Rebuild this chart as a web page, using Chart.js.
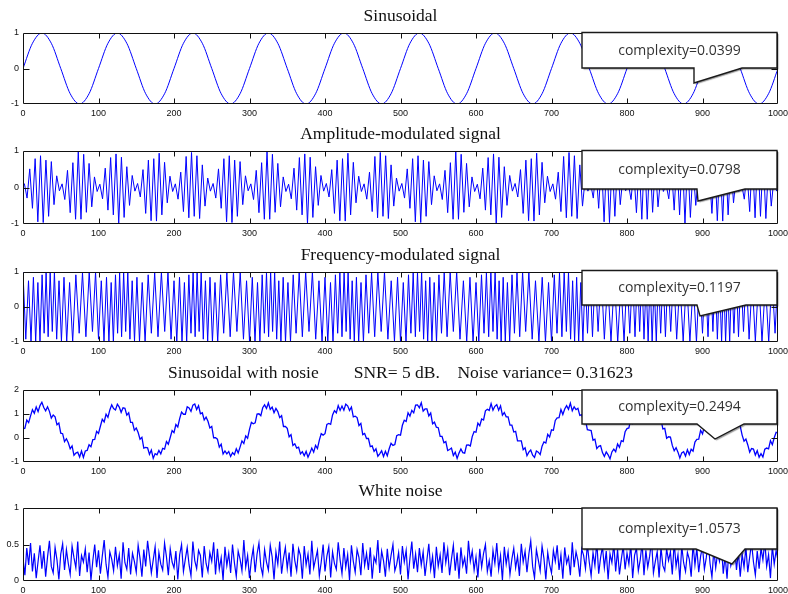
<!DOCTYPE html>
<html><head><meta charset="utf-8">
<script src="https://cdn.jsdelivr.net/npm/chart.js@4"></script>
<style>
html,body{margin:0;padding:0;background:#fff;}
body{width:788px;height:594px;position:relative;overflow:hidden;}
canvas{position:absolute;left:0;}
</style></head><body>
<script>
const titles = ['Sinusoidal','Amplitude-modulated signal','Frequency-modulated signal',
  'Sinusoidal with nosie        SNR= 5 dB.    Noise variance= 0.31623','White noise'];
const complexities = ['complexity=0.0399','complexity=0.0798','complexity=0.1197','complexity=0.2494','complexity=1.0573'];
const xTicks = [0,100,200,300,400,500,600,700,800,900,1000];
const yTicks = [[-1,0,1],[-1,0,1],[-1,0,1],[-1,0,1,2],[0,0.5,1]];

const sinStep = 12.5;
const sinValues = [0,0.71,1,0.71,0,-0.71,-1,-0.71, 0,0.71,1,0.71,0,-0.71,-1,-0.71, 0,0.71,1,0.71,0,-0.71,-1,-0.71,
 0,0.71,1,0.71,0,-0.71,-1,-0.71, 0,0.71,1,0.71,0,-0.71,-1,-0.71, 0,0.71,1,0.71,0,-0.71,-1,-0.71,
 0,0.71,1,0.71,0,-0.71,-1,-0.71, 0,0.71,1,0.71,0,-0.71,-1,-0.71, 0,0.71,1,0.71,0,-0.71,-1,-0.71,
 0,0.71,1,0.71,0,-0.71,-1,-0.71, 0];

const amStart = 1.79, amStep = 3.5714;
const amValues = [
 0.11,-0.29,0.51,-0.57,0.79,-0.94,0.87,-0.96,0.75,-0.79,0.71,-0.47,0.32,-0.09,
 0.10,-0.33,0.47,-0.69,0.68,-0.87,0.99,-0.87,0.91,-0.68,0.66,-0.53,0.29,-0.11,
 0.09,-0.31,0.53,-0.62,0.82,-0.75,0.92,-0.99,0.83,-0.82,0.57,-0.49,0.33,-0.10,
 0.11,-0.26,0.49,-0.71,0.75,-0.91,0.79,-0.92,0.94,-0.75,0.69,-0.42,0.31,-0.11,
 0.10,-0.32,0.42,-0.66,0.85,-0.83,0.96,-0.79,0.87,-0.85,0.62,-0.51,0.26,-0.10,
 0.11,-0.29,0.51,-0.57,0.79,-0.94,0.87,-0.96,0.75,-0.79,0.71,-0.47,0.32,-0.09,
 0.10,-0.33,0.47,-0.69,0.68,-0.87,0.99,-0.87,0.91,-0.68,0.66,-0.53,0.29,-0.11,
 0.09,-0.31,0.53,-0.62,0.82,-0.75,0.92,-0.99,0.83,-0.82,0.57,-0.49,0.33,-0.10,
 0.11,-0.26,0.49,-0.71,0.75,-0.91,0.79,-0.92,0.94,-0.75,0.69,-0.42,0.31,-0.11,
 0.10,-0.32,0.42,-0.66,0.85,-0.83,0.96,-0.79,0.87,-0.85,0.62,-0.51,0.26,-0.10,
 0.11,-0.29,0.51,-0.57,0.79,-0.94,0.87,-0.96,0.75,-0.79,0.71,-0.47,0.32,-0.09,
 0.10,-0.33,0.47,-0.69,0.68,-0.87,0.99,-0.87,0.91,-0.68,0.66,-0.53,0.29,-0.11,
 0.09,-0.31,0.53,-0.62,0.82,-0.75,0.92,-0.99,0.83,-0.82,0.57,-0.49,0.33,-0.10,
 0.11,-0.26,0.49,-0.71,0.75,-0.91,0.79,-0.92,0.94,-0.75,0.69,-0.42,0.31,-0.11,
 0.10,-0.32,0.42,-0.66,0.85,-0.83,0.96,-0.79,0.87,-0.85,0.62,-0.51,0.26,-0.10,
 0.11,-0.29,0.51,-0.57,0.79,-0.94,0.87,-0.96,0.75,-0.79,0.71,-0.47,0.32,-0.09,
 0.10,-0.33,0.47,-0.69,0.68,-0.87,0.99,-0.87,0.91,-0.68,0.66,-0.53,0.29,-0.11,
 0.09,-0.31,0.53,-0.62,0.82,-0.75,0.92,-0.99,0.83,-0.82,0.57,-0.49,0.33,-0.10,
 0.11,-0.26,0.49,-0.71,0.75,-0.91,0.79,-0.92,0.94,-0.75,0.69,-0.42,0.31,-0.11,
 0.10,-0.32,0.42,-0.66,0.85,-0.83,0.96,-0.79,0.87,-0.85,0.62,-0.51,0.26,-0.10];

const fmX = [
 0,3.7,7.3,10.6,13.8,16.8,19.7,22.5,25.3,28,30.6,33.3,36,38.8,41.6,44.6,47.7,50.9,54.3,57.9,61.7,65.8,70,74.4,78.8,83.3,87.7,92,96.1,
 100,103.7,107.3,110.6,113.8,116.8,119.7,122.5,125.3,128,130.6,133.3,136,138.8,141.6,144.6,147.7,150.9,154.3,157.9,161.7,165.8,170,174.4,178.8,183.3,187.7,192,196.1,
 200,203.7,207.3,210.6,213.8,216.8,219.7,222.5,225.3,228,230.6,233.3,236,238.8,241.6,244.6,247.7,250.9,254.3,257.9,261.7,265.8,270,274.4,278.8,283.3,287.7,292,296.1,
 300,303.7,307.3,310.6,313.8,316.8,319.7,322.5,325.3,328,330.6,333.3,336,338.8,341.6,344.6,347.7,350.9,354.3,357.9,361.7,365.8,370,374.4,378.8,383.3,387.7,392,396.1,
 400,403.7,407.3,410.6,413.8,416.8,419.7,422.5,425.3,428,430.6,433.3,436,438.8,441.6,444.6,447.7,450.9,454.3,457.9,461.7,465.8,470,474.4,478.8,483.3,487.7,492,496.1,
 500,503.7,507.3,510.6,513.8,516.8,519.7,522.5,525.3,528,530.6,533.3,536,538.8,541.6,544.6,547.7,550.9,554.3,557.9,561.7,565.8,570,574.4,578.8,583.3,587.7,592,596.1,
 600,603.7,607.3,610.6,613.8,616.8,619.7,622.5,625.3,628,630.6,633.3,636,638.8,641.6,644.6,647.7,650.9,654.3,657.9,661.7,665.8,670,674.4,678.8,683.3,687.7,692,696.1,
 700,703.7,707.3,710.6,713.8,716.8,719.7,722.5,725.3,728,730.6,733.3,736,738.8,741.6,744.6,747.7,750.9,754.3,757.9,761.7,765.8,770,774.4,778.8,783.3,787.7,792,796.1,
 800,803.7,807.3,810.6,813.8,816.8,819.7,822.5,825.3,828,830.6,833.3,836,838.8,841.6,844.6,847.7,850.9,854.3,857.9,861.7,865.8,870,874.4,878.8,883.3,887.7,892,896.1,
 900,903.7,907.3,910.6,913.8,916.8,919.7,922.5,925.3,928,930.6,933.3,936,938.8,941.6,944.6,947.7,950.9,954.3,957.9,961.7,965.8,970,974.4,978.8,983.3,987.7,992,996.1,
 1000];
const fmValues = [
 1,-0.92,0.75,-0.98,0.85,-1,0.7,-1,0.92,-0.75,0.98,-0.85,1,-0.7,
 1,-0.92,0.75,-0.98,0.85,-1,0.7,-1,0.92,-0.75,0.98,-0.85,1,-0.7,
 1,-0.92,0.75,-0.98,0.85,-1,0.7,-1,0.92,-0.75,0.98,-0.85,1,-0.7,
 1,-0.92,0.75,-0.98,0.85,-1,0.7,-1,0.92,-0.75,0.98,-0.85,1,-0.7,
 1,-0.92,0.75,-0.98,0.85,-1,0.7,-1,0.92,-0.75,0.98,-0.85,1,-0.7,
 1,-0.92,0.75,-0.98,0.85,-1,0.7,-1,0.92,-0.75,0.98,-0.85,1,-0.7,
 1,-0.92,0.75,-0.98,0.85,-1,0.7,-1,0.92,-0.75,0.98,-0.85,1,-0.7,
 1,-0.92,0.75,-0.98,0.85,-1,0.7,-1,0.92,-0.75,0.98,-0.85,1,-0.7,
 1,-0.92,0.75,-0.98,0.85,-1,0.7,-1,0.92,-0.75,0.98,-0.85,1,-0.7,
 1,-0.92,0.75,-0.98,0.85,-1,0.7,-1,0.92,-0.75,0.98,-0.85,1,-0.7,
 1,-0.92,0.75,-0.98,0.85,-1,0.7,-1,0.92,-0.75,0.98,-0.85,1,-0.7,
 1,-0.92,0.75,-0.98,0.85,-1,0.7,-1,0.92,-0.75,0.98,-0.85,1,-0.7,
 1,-0.92,0.75,-0.98,0.85,-1,0.7,-1,0.92,-0.75,0.98,-0.85,1,-0.7,
 1,-0.92,0.75,-0.98,0.85,-1,0.7,-1,0.92,-0.75,0.98,-0.85,1,-0.7,
 1,-0.92,0.75,-0.98,0.85,-1,0.7,-1,0.92,-0.75,0.98,-0.85,1,-0.7,
 1,-0.92,0.75,-0.98,0.85,-1,0.7,-1,0.92,-0.75,0.98,-0.85,1,-0.7,
 1,-0.92,0.75,-0.98,0.85,-1,0.7,-1,0.92,-0.75,0.98,-0.85,1,-0.7,
 1,-0.92,0.75,-0.98,0.85,-1,0.7,-1,0.92,-0.75,0.98,-0.85,1,-0.7,
 1,-0.92,0.75,-0.98,0.85,-1,0.7,-1,0.92,-0.75,0.98,-0.85,1,-0.7,
 1,-0.92,0.75,-0.98,0.85,-1,0.7,-1,0.92,-0.75,0.98,-0.85,1,-0.7,
 1,-0.92,0.75,-0.98,0.85,-1,0.7,-1,0.92,-0.75,0.98];

const noisyStep = 2.5;
const noisyValues = [
 0.38,0.41,0.75,0.64,0.92,1.18,1.03,1.29,1.10,1.35,1.49,1.27,1.13,1.30,1.11,0.83,0.96,0.88,0.55,0.62,0.20,0.18,-0.15,-0.03,-0.20,-0.45,-0.33,-0.72,-0.63,-0.59,-0.79,-0.54,-0.81,-0.54,-0.52,-0.28,-0.36,-0.07,-0.06,0.28,
 0.19,0.49,0.78,0.67,0.99,0.86,1.17,1.38,1.23,1.17,1.41,1.29,1.07,1.26,1.24,0.95,1.05,0.65,0.65,0.32,0.42,0.23,-0.05,0.03,-0.42,-0.39,-0.41,-0.68,-0.50,-0.85,-0.65,-0.70,-0.52,-0.66,-0.43,-0.46,-0.15,-0.26,0.02,0.31,
 0.22,0.56,0.46,0.81,1.08,0.99,0.99,1.30,1.25,1.11,1.37,1.42,1.19,1.35,1.01,1.05,0.75,0.87,0.70,0.42,0.48,0.01,0.01,-0.05,-0.38,-0.26,-0.67,-0.54,-0.66,-0.56,-0.77,-0.61,-0.70,-0.45,-0.62,-0.38,-0.12,-0.23,0.09,-0.01,
 0.36,0.65,0.59,0.63,1.00,1.01,0.93,1.26,1.38,1.23,1.46,1.19,1.29,1.05,1.23,1.10,0.85,0.93,0.48,0.48,0.40,0.05,0.14,-0.31,-0.24,-0.42,-0.38,-0.66,-0.57,-0.74,-0.56,-0.80,-0.62,-0.42,-0.59,-0.31,-0.44,-0.09,0.18,0.12,
 0.18,0.57,0.61,0.57,0.96,1.14,1.05,1.35,1.15,1.33,1.16,1.41,1.34,1.15,1.29,0.88,0.91,0.85,0.52,0.61,0.14,0.19,-0.02,-0.02,-0.36,-0.33,-0.56,-0.45,-0.76,-0.66,-0.53,-0.77,-0.55,-0.74,-0.45,-0.22,-0.31,-0.27,0.10,0.14,
 0.12,0.53,0.74,0.69,1.05,0.91,1.15,1.05,1.37,1.38,1.26,1.47,1.12,1.21,1.21,0.92,1.04,0.59,0.66,0.45,0.43,0.07,0.07,-0.20,-0.15,-0.52,-0.48,-0.42,-0.73,-0.59,-0.85,-0.63,-0.46,-0.61,-0.63,-0.30,-0.29,-0.33,0.06,0.27,
 0.24,0.62,0.51,0.79,0.75,1.13,1.20,1.15,1.43,1.16,1.32,1.39,1.16,1.34,0.95,1.06,0.88,0.88,0.54,0.54,0.25,0.28,-0.12,-0.12,-0.12,-0.49,-0.41,-0.74,-0.59,-0.50,-0.72,-0.81,-0.54,-0.59,-0.69,-0.34,-0.16,-0.21,0.15,0.04,
 0.34,0.32,0.73,0.84,0.85,1.19,0.98,1.21,1.35,1.20,1.45,1.13,1.30,1.18,1.24,0.94,0.97,0.70,0.75,0.35,0.33,0.31,-0.09,-0.05,-0.44,-0.35,-0.32,-0.61,-0.77,-0.58,-0.70,-0.87,-0.58,-0.46,-0.57,-0.25,-0.39,-0.11,-0.15,0.26,
 0.39,0.42,0.79,0.62,0.91,1.11,1.02,1.34,1.09,1.34,1.29,1.42,1.18,1.27,1.06,1.15,0.78,0.78,0.78,0.38,0.40,-0.01,0.05,0.04,-0.31,-0.53,-0.40,-0.59,-0.83,-0.62,-0.57,-0.75,-0.49,-0.69,-0.47,-0.55,-0.17,-0.06,-0.05,0.32,
 0.17,0.48,0.71,0.66,1.04,0.85,1.16,1.18,1.38,1.22,1.38,1.24,1.39,1.08,1.14,1.18,0.81,0.85,0.46,0.52,0.49,0.12,-0.13,-0.04,-0.29,-0.59,-0.44,-0.46,-0.71,-0.53,-0.80,-0.65,-0.79,-0.47,-0.42,-0.45,-0.11,-0.28,0.01,0.24,
 0.21];

const whiteStep = 2.5;
const whiteValues = [
 0.31,0.08,0.45,0.22,0.52,0.13,0.38,0.04,0.27,0.49,0.17,0.41,0.06,0.33,0.55,0.20,0.11,0.46,0.29,0.02,
 0.37,0.51,0.15,0.43,0.24,0.09,0.48,0.32,0.18,0.54,0.07,0.35,0.26,0.44,0.12,0.39,0.01,0.28,0.50,0.19,
 0.42,0.10,0.34,0.56,0.23,0.05,0.40,0.30,0.14,0.47,0.21,0.36,0.03,0.53,0.25,0.16,0.45,0.09,0.38,0.27,
 0.12,0.49,0.31,0.06,0.43,0.20,0.55,0.34,0.11,0.29,0.47,0.04,0.39,0.23,0.15,0.52,0.33,0.08,0.44,0.26,
 0.18,0.41,0.02,0.36,0.50,0.13,0.30,0.46,0.22,0.07,0.54,0.28,0.17,0.42,0.35,0.05,0.48,0.24,0.13,0.39,
 0.27,0.53,0.09,0.44,0.16,0.32,0.01,0.47,0.21,0.38,0.11,0.50,0.25,0.06,0.41,0.30,0.14,0.56,0.19,0.35,
 0.04,0.29,0.45,0.12,0.37,0.52,0.20,0.08,0.43,0.26,0.15,0.49,0.33,0.02,0.40,0.23,0.54,0.10,0.31,0.46,
 0.17,0.39,0.06,0.51,0.28,0.14,0.44,0.35,0.03,0.48,0.22,0.37,0.09,0.55,0.18,0.30,0.42,0.07,0.26,0.50,
 0.13,0.34,0.47,0.05,0.40,0.24,0.16,0.53,0.29,0.10,0.45,0.19,0.36,0.01,0.49,0.27,0.12,0.43,0.32,0.08,
 0.52,0.21,0.38,0.15,0.46,0.03,0.33,0.25,0.56,0.11,0.41,0.28,0.06,0.44,0.18,0.35,0.50,0.14,0.23,0.39,
 0.09,0.48,0.26,0.42,0.02,0.31,0.54,0.17,0.37,0.12,0.45,0.22,0.40,0.07,0.29,0.51,0.16,0.34,0.04,0.47,
 0.20,0.36,0.11,0.53,0.25,0.43,0.08,0.30,0.49,0.14,0.39,0.03,0.46,0.21,0.32,0.10,0.55,0.27,0.41,0.15,
 0.33,0.05,0.44,0.19,0.38,0.50,0.13,0.28,0.06,0.42,0.24,0.52,0.16,0.35,0.01,0.47,0.23,0.40,0.09,0.30,
 0.45,0.18,0.34,0.07,0.51,0.26,0.41,0.12,0.37,0.55,0.20,0.04,0.43,0.29,0.14,0.48,0.31,0.02,0.39,0.22,
 0.11,0.42,0.27,0.49,0.15,0.36,0.03,0.46,0.24,0.33,0.08,0.53,0.19,0.40,0.28,0.06,0.44,0.35,0.17,0.50,
 0.26,0.07,0.39,0.21,0.54,0.10,0.32,0.47,0.18,0.41,0.02,0.37,0.25,0.51,0.13,0.43,0.09,0.30,0.48,0.16,
 0.38,0.23,0.50,0.04,0.35,0.45,0.14,0.29,0.52,0.08,0.42,0.19,0.34,0.56,0.11,0.27,0.40,0.05,0.46,0.21,
 0.14,0.44,0.28,0.40,0.09,0.53,0.20,0.36,0.01,0.48,0.25,0.13,0.39,0.30,0.06,0.51,0.22,0.45,0.12,0.34,
 0.47,0.16,0.32,0.55,0.24,0.05,0.43,0.18,0.38,0.27,0.50,0.10,0.35,0.03,0.44,0.21,0.31,0.49,0.15,0.40,
 0.06,0.37,0.19,0.46,0.12,0.33,0.52,0.26,0.08,0.41,0.17,0.45,0.29,0.54,0.20,0.36,0.04,0.48,0.23,0.42,
 0.28];

function stepSeries(values, start, step){ return values.map((v,i)=>({x:start+i*step, y:v})); }
function pairSeries(xs, ys){ const n=Math.min(xs.length, ys.length); const out=[]; for(let i=0;i<n;i++) out.push({x:xs[i],y:ys[i]}); return out; }

const series = [
  stepSeries(sinValues, 0, sinStep),
  stepSeries(amValues, amStart, amStep),
  pairSeries(fmX, fmValues),
  stepSeries(noisyValues, 0, noisyStep),
  stepSeries(whiteValues, 0, whiteStep)
];

// layout / style (page pixel coordinates)
const layoutCfg = [
  {top:33, h:71, smooth:true,  lw:1,   box:[582,32.5,777,68],  tail:[[694,68],[694,83],[742,68]]},
  {top:151,h:73, smooth:false, lw:1,   box:[582,150.5,777,189], tail:[[697,189],[698,201],[745,189]]},
  {top:272,h:70, smooth:false, lw:1,   box:[582,270.5,777,305], tail:[[697,305],[700,316],[746,305]]},
  {top:390,h:72, smooth:false, lw:1.3, box:[582,390,777,424],   tail:[[697,424],[715,439],[744,424]]},
  {top:508,h:73, smooth:false, lw:1.2, box:[582,508,777,549],   tail:[[696,549],[732,564],[745,549]]}
];
const TITLE_SPACE = 30, XAXIS_SPACE = 16;

const framePlugin = {
  id:'frameTicks',
  afterDatasetsDraw(chart){
    const {ctx, chartArea:a, scales} = chart;
    const x = scales.x, y = scales.y;
    ctx.save();
    ctx.strokeStyle = '#111'; ctx.lineWidth = 1;
    const L = Math.round(a.left)+0.5, R = Math.round(a.right)-0.5, T = Math.round(a.top)+0.5, B = Math.round(a.bottom)-0.5;
    ctx.beginPath();
    ctx.rect(L, T, R-L, B-T);
    x.ticks.forEach(t=>{
      const px = Math.round(x.getPixelForValue(t.value))+0.5;
      if (px <= L+1 || px >= R-1) return;
      ctx.moveTo(px, T); ctx.lineTo(px, T+5);
      ctx.moveTo(px, B); ctx.lineTo(px, B-5);
    });
    y.ticks.forEach(t=>{
      const py = Math.round(y.getPixelForValue(t.value))+0.5;
      if (py <= T+1 || py >= B-1) return;
      ctx.moveTo(L, py); ctx.lineTo(L+6, py);
      ctx.moveTo(R, py); ctx.lineTo(R-6, py);
    });
    ctx.stroke();
    ctx.restore();
  }
};

function makeCallout(text, cfg, offset){
  return {
    id:'callout',
    afterDraw(chart){
      const ctx = chart.ctx;
      const L = cfg.box[0], T = cfg.box[1]-offset, R = cfg.box[2], B = cfg.box[3]-offset;
      const t = cfg.tail.map(p=>[p[0], p[1]-offset]);
      ctx.save();
      ctx.beginPath();
      ctx.moveTo(L,T); ctx.lineTo(R,T); ctx.lineTo(R,B);
      ctx.lineTo(t[2][0],t[2][1]); ctx.lineTo(t[1][0],t[1][1]); ctx.lineTo(t[0][0],t[0][1]);
      ctx.lineTo(L,B); ctx.closePath();
      ctx.shadowColor = 'rgba(0,0,0,0.4)'; ctx.shadowOffsetX = 1.5; ctx.shadowOffsetY = 1.5; ctx.shadowBlur = 1;
      ctx.fillStyle = '#fff'; ctx.fill();
      ctx.shadowColor = 'rgba(0,0,0,0)';
      ctx.lineWidth = 1.4; ctx.strokeStyle = '#1a1a1a'; ctx.lineJoin = 'miter'; ctx.stroke();
      ctx.fillStyle = '#333';
      ctx.font = '14px "Open Sans", "Noto Sans", sans-serif';
      ctx.textAlign = 'center'; ctx.textBaseline = 'middle';
      ctx.fillText(text, (L+R)/2, (T+B)/2 + 0.5);
      ctx.restore();
    }
  };
}

const tickFont = {family:'"Liberation Sans", Arial, sans-serif', size:9};

layoutCfg.forEach((cfg, i)=>{
  const canvas = document.createElement('canvas');
  const canvasTop = cfg.top - TITLE_SPACE;
  const H = cfg.h + TITLE_SPACE + XAXIS_SPACE;
  canvas.width = 788; canvas.height = H;
  canvas.style.top = canvasTop + 'px';
  canvas.style.width = '788px'; canvas.style.height = H + 'px';
  document.body.appendChild(canvas);
  const yt = yTicks[i];
  new Chart(canvas, {
    type:'line',
    data:{datasets:[{
      data: series[i],
      borderColor:'#0000ff', borderWidth:cfg.lw, pointRadius:0, fill:false,
      tension: 0, cubicInterpolationMode: cfg.smooth ? 'monotone' : 'default'
    }]},
    options:{
      responsive:false, animation:false, events:[], devicePixelRatio:1,
      layout:{padding:{left:0,right:10,top:0,bottom:0}},
      plugins:{
        legend:{display:false}, tooltip:{enabled:false},
        title:{display:true, text:titles[i], fullSize:false, color:'#111',
          font:{family:'"Liberation Serif","Times New Roman",serif', size:17.5, weight:'normal'},
          padding:{top:2.5,bottom:6.5}}
      },
      scales:{
        x:{type:'linear', min:0, max:1000,
          grid:{display:false, drawTicks:false}, border:{display:false},
          afterBuildTicks:s=>{ s.ticks = xTicks.map(v=>({value:v})); },
          ticks:{padding:4, font:tickFont, color:'#111', maxRotation:0, autoSkip:false, callback:v=>String(v)},
          afterFit:s=>{ s.height = XAXIS_SPACE; s.paddingLeft = 0; s.paddingRight = 0; }},
        y:{type:'linear', min:yt[0], max:yt[yt.length-1],
          grid:{display:false, drawTicks:false}, border:{display:false},
          afterBuildTicks:s=>{ s.ticks = yt.map(v=>({value:v})); },
          ticks:{padding:4, font:tickFont, color:'#111', callback:v=>String(v)},
          afterFit:s=>{ s.width = 23; s.paddingTop = 0; s.paddingBottom = 0; }}
      }
    },
    plugins:[framePlugin, makeCallout(complexities[i], cfg, canvasTop)]
  });
});
</script>
</body></html>
